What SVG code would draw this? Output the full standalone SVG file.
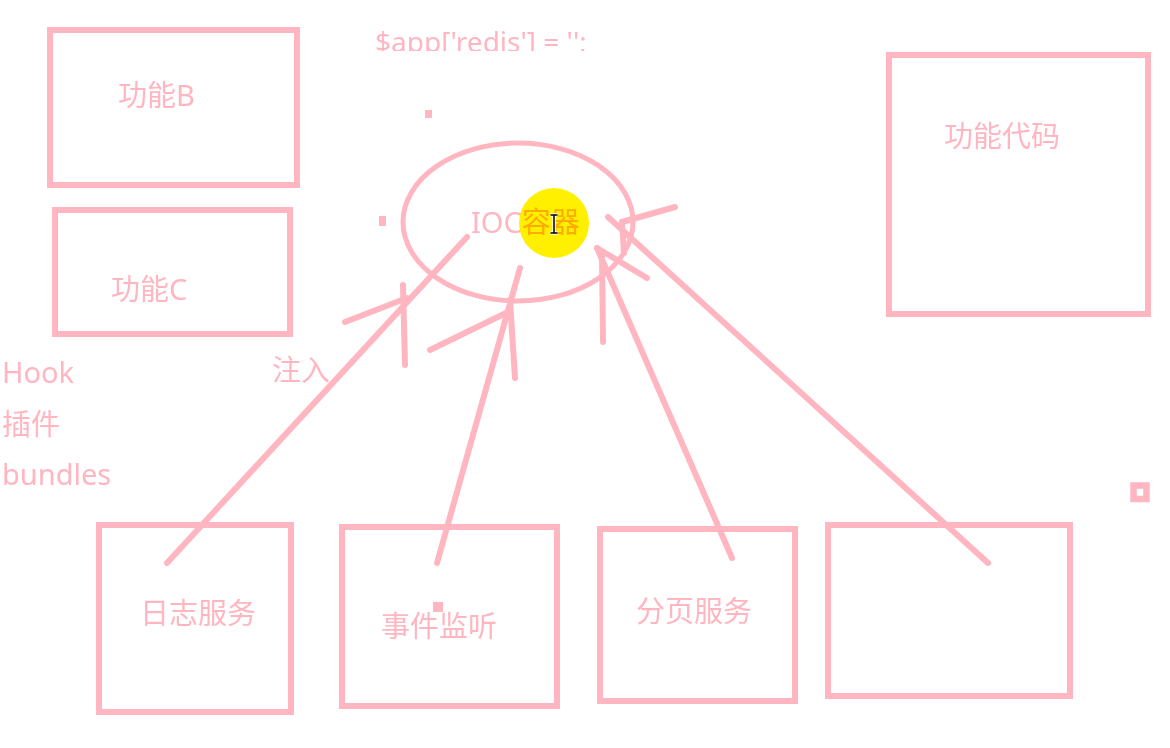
<svg xmlns="http://www.w3.org/2000/svg" width="1170" height="748" viewBox="0 0 1170 748">
  <defs>
    <style>
      .box { fill: none; stroke: #FFB6C1; stroke-width: 6; }
      .ln { fill: none; stroke: #FFB6C1; stroke-width: 6; stroke-linecap: round; }
      .t { fill: #FFB6C1; font-family: "Noto Sans", "Noto Sans CJK SC", "Liberation Sans", sans-serif; font-size: 29px; font-weight: 400; }
      .dot { fill: #FFB6C1; }
    </style>
    <clipPath id="topclip"><rect x="0" y="0" width="1170" height="51"/></clipPath>
  </defs>
  <rect x="0" y="0" width="1170" height="748" fill="#FFFFFF"/>

  <g id="code-text">
    <text class="t" x="375" y="52" style="font-size:28px" clip-path="url(#topclip)">$app['redis'] = '';</text>
  </g>

  <g id="node-b">
    <rect class="box" x="50" y="30" width="247" height="155"/>
    <text class="t" x="118" y="106">功能B</text>
  </g>
  <g id="node-c">
    <rect class="box" x="55" y="210" width="235" height="124"/>
    <text class="t" x="111" y="300">功能C</text>
  </g>
  <g id="node-code">
    <rect class="box" x="889" y="55" width="259" height="259"/>
    <text class="t" x="944" y="147">功能代码</text>
  </g>
  <g id="node-ioc">
    <ellipse cx="518" cy="222" rx="115" ry="79" fill="none" stroke="#FFB6C1" stroke-width="5"/>
    <text class="t" x="471" y="233">IOC容器</text>
    <circle cx="554" cy="223" r="35" fill="#FFF000" style="mix-blend-mode:multiply"/>
  </g>
  <g id="labels">
    <text class="t" x="2" y="383">Hook</text>
    <text class="t" x="2" y="435">插件</text>
    <text class="t" x="2" y="485">bundles</text>
    <text class="t" x="272" y="381">注入</text>
  </g>
  <g id="node-log">
    <rect class="box" x="99" y="525" width="192" height="187"/>
    <text class="t" x="140" y="624">日志服务</text>
  </g>
  <g id="node-event">
    <rect class="box" x="342" y="527" width="215" height="179"/>
    <text class="t" x="381" y="637">事件监听</text>
  </g>
  <g id="node-page">
    <rect class="box" x="600" y="529" width="195" height="172"/>
    <text class="t" x="636" y="622">分页服务</text>
  </g>
  <g id="node-empty">
    <rect class="box" x="828" y="525" width="242" height="171"/>
  </g>

  <g id="connectors">
    <line class="ln" x1="167" y1="563" x2="467" y2="237"/>
    <line class="ln" x1="345" y1="322" x2="407" y2="298"/>
    <line class="ln" x1="403" y1="285" x2="405" y2="365"/>
    <line class="ln" x1="437" y1="563" x2="520" y2="268"/>
    <line class="ln" x1="430" y1="350" x2="508" y2="312"/>
    <line class="ln" x1="510" y1="300" x2="515" y2="378"/>
    <line class="ln" x1="732" y1="558" x2="597" y2="248"/>
    <line class="ln" x1="602" y1="255" x2="603" y2="342"/>
    <line class="ln" x1="597" y1="248" x2="647" y2="278"/>
    <line class="ln" x1="988" y1="563" x2="608" y2="217"/>
    <line class="ln" x1="622" y1="222" x2="675" y2="207"/>
    <line class="ln" x1="622" y1="222" x2="624" y2="253"/>
  </g>

  <g id="marks">
    <rect class="dot" x="425" y="110" width="7" height="8"/>
    <rect class="dot" x="379" y="216" width="7" height="10"/>
    <rect class="dot" x="433" y="602" width="10" height="10"/>
    <rect x="1133.5" y="485.5" width="13" height="13.5" fill="none" stroke="#FFB6C1" stroke-width="6.5"/>
  </g>

  <g id="cursor">
    <path d="M550.5 215 H557.5 M554 215 V233 M550.5 233 H557.5" fill="none" stroke="#FFFFFF" stroke-width="3.5"/>
    <path d="M550.5 215 H557.5 M554 215 V233 M550.5 233 H557.5" fill="none" stroke="#000000" stroke-width="1.5"/>
  </g>
</svg>
